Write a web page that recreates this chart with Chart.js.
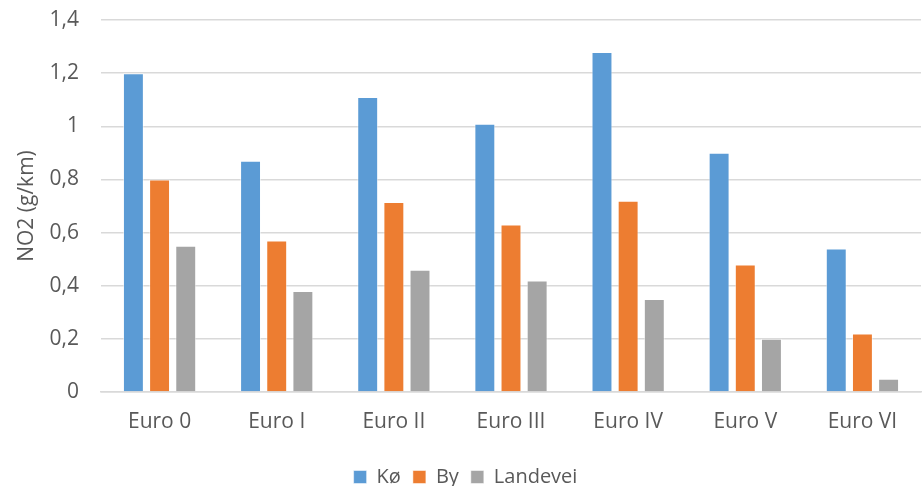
<!DOCTYPE html>
<html>
<head>
<meta charset="utf-8">
<script src="https://cdn.jsdelivr.net/npm/chart.js@4"></script>
<style>
  html, body { margin: 0; padding: 0; background: #fff; }
  #wrap { width: 924px; height: 486px; }
</style>
</head>
<body>
<div id="wrap"><canvas id="no2Chart"></canvas></div>
<script>
const categories = ['Euro 0', 'Euro I', 'Euro II', 'Euro III', 'Euro IV', 'Euro V', 'Euro VI'];
const koValues = [1.20, 0.87, 1.11, 1.01, 1.28, 0.90, 0.54];
const byValues = [0.80, 0.57, 0.715, 0.63, 0.72, 0.48, 0.22];
const landeveiValues = [0.55, 0.38, 0.46, 0.42, 0.35, 0.20, 0.05];
const yTicks = [0, 0.2, 0.4, 0.6, 0.8, 1, 1.2, 1.4];

const textColor = '#595959';
const fontFamily = '"Open Sans", "Noto Sans", sans-serif';

const ctx = document.getElementById('no2Chart').getContext('2d');
const no2Chart = new Chart(ctx, {
    type: 'bar',
    data: {
        labels: categories,
        datasets: [
            { label: 'Kø', data: koValues, backgroundColor: '#5B9BD5', borderColor: 'rgba(255,255,255,0.5)', borderWidth: 1 },
            { label: 'By', data: byValues, backgroundColor: '#ED7D31', borderColor: 'rgba(255,255,255,0.5)', borderWidth: 1 },
            { label: 'Landevei', data: landeveiValues, backgroundColor: '#A5A5A5', borderColor: 'rgba(255,255,255,0.5)', borderWidth: 1 }
        ]
    },
    options: {
        responsive: true,
        maintainAspectRatio: false,
        animation: false,
        categoryPercentage: 0.67,
        barPercentage: 0.8,
        layout: { padding: { top: 20, right: 3, left: 10, bottom: -11 } },
        plugins: {
            legend: {
                position: 'bottom',
                labels: {
                    boxWidth: 13,
                    boxHeight: 13,
                    padding: 12,
                    color: textColor,
                    font: { family: fontFamily, size: 20 }
                }
            },
            tooltip: { enabled: false }
        },
        scales: {
            x: {
                grid: { display: false },
                border: { color: '#d9d9d9', width: 1.5 },
                ticks: { color: textColor, padding: 9, font: { family: fontFamily, size: 21 } },
                afterFit: (s) => { s.height = 63; }
            },
            y: {
                min: 0,
                max: 1.4,
                afterBuildTicks: (s) => { s.ticks = yTicks.map(v => ({ value: v })); },
                grid: { color: '#d9d9d9', lineWidth: 1.5, drawTicks: false },
                border: { display: false },
                ticks: {
                    color: textColor,
                    padding: 22,
                    font: { family: fontFamily, size: 21 },
                    callback: (v) => String(Math.round(v * 10) / 10).replace('.', ',')
                },
                title: {
                    display: true,
                    text: 'NO2 (g/km)',
                    color: textColor,
                    font: { family: fontFamily, size: 21 }
                },
                afterFit: (s) => { s.width = 91; s.paddingTop = 12; }
            }
        }
    }
});
</script>
</body>
</html>
